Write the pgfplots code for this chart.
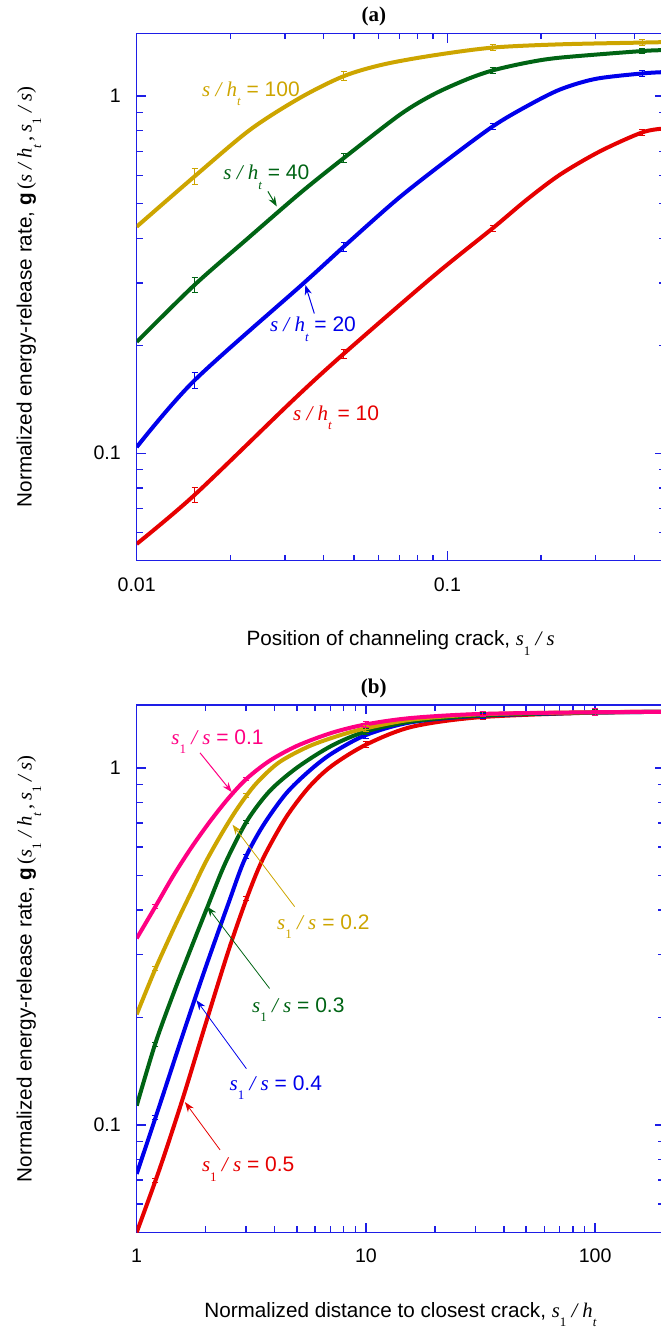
\documentclass[border=0pt]{standalone}
\usepackage{fontspec}
\setmainfont{Liberation Sans}
\newfontfamily\tms{Liberation Serif}
\usepackage{pgfplots}
\pgfplotsset{compat=1.18}
\usetikzlibrary{arrows.meta}

\definecolor{axisblue}{RGB}{30,30,230}
\definecolor{cgold}{RGB}{205,165,0}
\definecolor{cgreen}{RGB}{0,100,20}
\definecolor{cblue}{RGB}{0,0,235}
\definecolor{cred}{RGB}{230,0,0}
\definecolor{cpink}{RGB}{255,0,130}

% lowered subscripts in the serif face, spaced slash
\newcommand{\subt}{\raisebox{-0.45em}{\fontsize{6.5pt}{7pt}\selectfont\tms\itshape t}}
\newcommand{\subo}{\raisebox{-0.45em}{\fontsize{6.5pt}{7pt}\selectfont\tms 1}}
\newcommand{\slh}{\hspace{0.25em}/\hspace{0.25em}}
\newcommand{\sh}{{\tms\itshape s\slh h}\subt}
\newcommand{\sos}{{\tms\itshape s}\subo{\tms\itshape\slh s}}
\newcommand{\soh}{{\tms\itshape s}\subo{\tms\itshape\slh h}\subt}

\tikzset{
  lab/.style={anchor=base west, inner sep=0pt, font=\fontsize{10.5}{12}\selectfont},
  arr/.style={line width=0.5pt, -{Stealth[length=5pt,width=3.6pt]}},
}

\pgfplotsset{
  mypanel/.style={
    scale only axis,
    axis line style={draw=axisblue, line width=0.75pt},
    tick style={draw=axisblue, line width=0.7pt},
    tick align=inside,
    major tick length=4.7pt, minor tick length=3pt,
    ymin=0.05, ymax=1.5,
    ytick={0.1,1}, yticklabels={0.1,1},
    minor ytick={0.06,0.07,0.08,0.09,0.2,0.3,0.4,0.5,0.6,0.7,0.8,0.9},
    /pgf/number format/assume math mode=true,
    tick label style={font=\fontsize{9.8}{11}\selectfont, text=black},
    xticklabel style={anchor=base, yshift=-15.2pt},
    yticklabel style={xshift=-4.4pt},
    xlabel style={at={(axis description cs:0.5,0)}, anchor=base, yshift=-42.5pt,
      font=\fontsize{10.35}{12}\selectfont},
    ylabel style={anchor=base, font=\fontsize{10.35}{12}\selectfont},
    every axis title shift=0pt,
    title style={at={(axis description cs:0.4495,1)}, anchor=base, yshift=5.8pt,
      font=\fontsize{10.5}{12}\selectfont\tms\bfseries},
  },
  curve/.style={line width=2pt, smooth, line join=round},
  ebar/.style={#1, draw=none, mark=none, forget plot,
    error bars/.cd, y dir=both, y explicit relative,
    error bar style={line width=0.5pt, draw=#1},
    error mark options={rotate=90, mark size=1.5pt, line width=0.5pt, draw=#1}},
}

\begin{document}
\begin{tikzpicture}
\path[use as bounding box] (0,0) rectangle (330pt,-666pt);

% ---------------- (a) ----------------
\begin{loglogaxis}[mypanel,
  at={(68.35pt,-16.65pt)}, anchor=north west,
  width=263.95pt, height=263.7pt,
  xmin=0.01, xmax=0.5,
  xtick={0.01,0.1}, xticklabels={0.01,0.1},
  minor xtick={0.02,0.03,0.04,0.05,0.06,0.07,0.08,0.09,0.2,0.3,0.4},
  title={(a)},
  xlabel={Position of channeling crack, \sos},
  ylabel={Normalized energy-release rate, \textbf{g}\,{\tms(\textit{s\slh h}\subt\,,\,\textit{s}\subo\textit{\slh s})}},
  ylabel style={at={(axis description cs:-0.1989,0.5)}},
]
% s/h_t = 10
\addplot[curve, cred] coordinates {
 (0.01,0.0557) (0.01535,0.0764) (0.0318,0.1406) (0.0464,0.190) (0.090,0.313)
 (0.140,0.427) (0.180,0.513) (0.2304,0.603) (0.310,0.701) (0.424,0.792) (0.5,0.812)};
% s/h_t = 20
\addplot[curve, cblue] coordinates {
 (0.01,0.104) (0.01535,0.160) (0.0344,0.299) (0.0464,0.379) (0.0687,0.513)
 (0.097,0.650) (0.140,0.823) (0.180,0.937) (0.2304,1.044) (0.300,1.118)
 (0.424,1.158) (0.5,1.168)};
% s/h_t = 40
\addplot[curve, cgreen] coordinates {
 (0.01,0.205) (0.01535,0.296) (0.0225,0.396) (0.0336,0.5355) (0.0464,0.671)
 (0.0704,0.888) (0.0901,1.011) (0.1153,1.114) (0.140,1.181) (0.180,1.241)
 (0.2304,1.282) (0.424,1.338) (0.5,1.345)};
% s/h_t = 100
\addplot[curve, cgold] coordinates {
 (0.01,0.431) (0.01535,0.596) (0.0232,0.806) (0.0336,0.990)
 (0.0464,1.138) (0.0622,1.227) (0.0901,1.301) (0.140,1.368) (0.2304,1.397)
 (0.424,1.413) (0.5,1.417)};

\addplot[ebar=cred] coordinates {
 (0.01535,0.0764) +- (0,0.05) (0.0464,0.190) +- (0,0.03)
 (0.140,0.427) +- (0,0.02) (0.424,0.792) +- (0,0.018)};
\addplot[ebar=cblue] coordinates {
 (0.01535,0.160) +- (0,0.05) (0.0464,0.379) +- (0,0.03)
 (0.140,0.823) +- (0,0.02) (0.424,1.158) +- (0,0.018)};
\addplot[ebar=cgreen] coordinates {
 (0.01535,0.296) +- (0,0.05) (0.0464,0.671) +- (0,0.03)
 (0.140,1.181) +- (0,0.02) (0.424,1.338) +- (0,0.018)};
\addplot[ebar=cgold] coordinates {
 (0.01535,0.596) +- (0,0.05) (0.0464,1.138) +- (0,0.03)
 (0.140,1.368) +- (0,0.02) (0.424,1.413) +- (0,0.018)};

\node[lab, text=cgold]  at (axis cs:0.0162,1.0)    {\sh{} = 100};
\node[lab, text=cgreen] at (axis cs:0.01896,0.583) {\sh{} = 40};
\draw[arr, cgreen] (axis cs:0.02644,0.541) -- (axis cs:0.02825,0.491);
\node[lab, text=cblue]  at (axis cs:0.02678,0.2188) {\sh{} = 20};
\draw[arr, cblue] (axis cs:0.0373,0.2463) -- (axis cs:0.0349,0.296);
\node[lab, text=cred]   at (axis cs:0.0318,0.1235) {\sh{} = 10};
\end{loglogaxis}

% ---------------- (b) ----------------
\begin{loglogaxis}[mypanel,
  at={(68.35pt,-352.5pt)}, anchor=north west,
  width=263.7pt, height=263.65pt,
  xmin=1, xmax=200,
  xtick={1,10,100}, xticklabels={1,10,100},
  minor xtick={2,3,4,5,6,7,8,9,20,30,40,50,60,70,80,90},
  title={(b)},
  xlabel={Normalized distance to closest crack, \soh},
  ylabel={Normalized energy-release rate, \textbf{g}\,{\tms(\textit{s}\subo\textit{\slh h}\subt\,,\,\textit{s}\subo\textit{\slh s})}},
  ylabel style={at={(axis description cs:-0.1991,0.5)}},
]
% s1/s = 0.5
\addplot[curve, cred] coordinates {
 (1,0.050) (1.259,0.0753) (1.585,0.118) (1.995,0.191) (2.512,0.307) (3.020,0.431)
 (3.548,0.555) (4.467,0.724) (5.623,0.881) (7.079,1.012) (10,1.161) (15.85,1.303)
 (31.62,1.387) (100,1.429) (200,1.435)};
% s1/s = 0.4
\addplot[curve, cblue] coordinates {
 (1,0.0729) (1.259,0.1135) (1.585,0.178) (1.995,0.275) (2.512,0.417) (2.951,0.552)
 (3.548,0.687) (4.467,0.845) (5.623,0.977) (7.079,1.096) (10,1.236) (15.85,1.343)
 (31.62,1.400) (100,1.429) (200,1.435)};
% s1/s = 0.3
\addplot[curve, cgreen] coordinates {
 (1,0.1132) (1.202,0.168) (1.445,0.233) (1.738,0.316) (2.042,0.410) (2.432,0.540)
 (3.020,0.708) (3.802,0.861) (5.012,1.002) (7.079,1.153) (10,1.265) (15.85,1.349)
 (31.62,1.403) (100,1.429) (200,1.435)};
% s1/s = 0.2
\addplot[curve, cgold] coordinates {
 (1,0.204) (1.202,0.272) (1.445,0.353) (1.738,0.452) (1.995,0.543) (2.344,0.653)
 (2.754,0.771) (3.311,0.902) (4.169,1.035) (5.623,1.148) (7.586,1.230) (10,1.291)
 (15.85,1.365) (31.62,1.413) (100,1.432) (200,1.435)};
% s1/s = 0.1
\addplot[curve, cpink] coordinates {
 (1,0.333) (1.202,0.407) (1.445,0.499) (1.738,0.600) (2.089,0.708) (2.512,0.822)
 (3.020,0.933) (3.802,1.047) (5.012,1.153) (7.079,1.253) (10,1.324) (15.85,1.380)
 (31.62,1.416) (100,1.432) (200,1.435)};

\addplot[ebar=cred] coordinates {
 (1.207,0.0699) +- (0,0.012) (3.01,0.430) +- (0,0.012) (10,1.161) +- (0,0.02)
 (32.3,1.388) +- (0,0.015) (100,1.429) +- (0,0.022)};
\addplot[ebar=cblue] coordinates {
 (1.207,0.105) +- (0,0.012) (3.01,0.565) +- (0,0.012) (10,1.236) +- (0,0.02)
 (32.3,1.400) +- (0,0.015) (100,1.429) +- (0,0.022)};
\addplot[ebar=cgreen] coordinates {
 (1.207,0.168) +- (0,0.012) (3.01,0.706) +- (0,0.012) (10,1.265) +- (0,0.02)
 (32.3,1.404) +- (0,0.015) (100,1.429) +- (0,0.022)};
\addplot[ebar=cgold] coordinates {
 (1.207,0.274) +- (0,0.012) (3.01,0.835) +- (0,0.012) (10,1.291) +- (0,0.02)
 (32.3,1.413) +- (0,0.015) (100,1.432) +- (0,0.022)};
\addplot[ebar=cpink] coordinates {
 (1.207,0.409) +- (0,0.012) (3.01,0.931) +- (0,0.012) (10,1.324) +- (0,0.02)
 (32.3,1.417) +- (0,0.015) (100,1.432) +- (0,0.022)};

\node[lab, text=cpink]  at (axis cs:1.411,1.163) {\sos{} = 0.1};
\draw[arr, cpink] (axis cs:1.889,1.102) -- (axis cs:2.6,0.855);
\node[lab, text=cgold]  at (axis cs:4.087,0.353) {\sos{} = 0.2};
\draw[arr, cgold, line width=0.4pt] (axis cs:4.887,0.4086) -- (axis cs:2.62,0.693);
\node[lab, text=cgreen] at (axis cs:3.178,0.207) {\sos{} = 0.3};
\draw[arr, cgreen, line width=0.4pt] (axis cs:3.80,0.241) -- (axis cs:2.03,0.4087);
\node[lab, text=cblue]  at (axis cs:2.535,0.1248) {\sos{} = 0.4};
\draw[arr, cblue, line width=0.4pt] (axis cs:3.01,0.1437) -- (axis cs:1.822,0.2235);
\node[lab, text=cred]   at (axis cs:1.921,0.0739) {\sos{} = 0.5};
\draw[arr, cred, line width=0.4pt] (axis cs:2.31,0.0851) -- (axis cs:1.624,0.1158);
\end{loglogaxis}
\end{tikzpicture}
\end{document}
